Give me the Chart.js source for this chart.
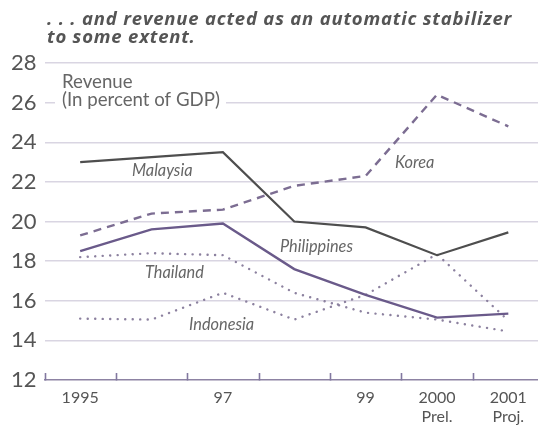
<!DOCTYPE html>
<html>
<head>
<meta charset="utf-8">
<script src="https://cdn.jsdelivr.net/npm/chart.js@4/dist/chart.umd.min.js"></script>
<style>
html,body{margin:0;padding:0;background:#fff;overflow:hidden;width:538px;height:425px;}
#wrap{position:relative;width:544px;height:425px;}
</style>
</head>
<body>
<div id="wrap"><canvas id="c" width="544" height="425"></canvas></div>
<script>
// ---- data ----
const categories = ['1995','1996','1997','1998','1999','2000','2001'];
const tickLabels = ['1995','','97','','99',['2000','Prel.'],['2001','Proj.']];
const malaysia    = [23.0, 23.25, 23.5, 20.0, 19.7, 18.3, 19.45];
const korea       = [19.3, 20.4, 20.6, 21.8, 22.3, 26.4, 24.8];
const philippines = [18.5, 19.6, 19.9, 17.6, 16.3, 15.15, 15.35];
const thailand    = [18.2, 18.4, 18.3, 16.4, 15.4, 15.05, 14.45];
const indonesia   = [15.1, 15.05, 16.4, 15.05, 16.3, 18.35, 15.0];
const seriesNames = ['Malaysia','Korea','Philippines','Thailand','Indonesia'];
const titleLines = ['. . . and revenue acted as an automatic stabilizer','to some extent.'];
const unitLines = ['Revenue','(In percent of GDP)'];
const yMin = 12, yMax = 28, yStep = 2;

// ---- helpers ----
function fitSize(ctx, text, width, style, family){
  ctx.font = style + ' 20px ' + family;
  return 20 * width / ctx.measureText(text).width;
}

const annot = {
  id: 'annot',
  beforeDatasetsDraw(chart){
    const ctx = chart.ctx;
    ctx.save();
    // white box behind the unit label (interrupts the 26 grid line)
    ctx.fillStyle = '#fff';
    ctx.fillRect(55, 95, 171, 17);
    ctx.fillStyle = '#666';
    ctx.textBaseline = 'alphabetic';
    ctx.textAlign = 'left';
    let s = fitSize(ctx, unitLines[1], 158, 'normal', 'Lato');
    ctx.font = 'normal ' + s + 'px Lato';
    ctx.fillText(unitLines[0], 62, 88);
    ctx.fillText(unitLines[1], 62, 106);
    ctx.restore();
  },
  afterDraw(chart){
    const ctx = chart.ctx;
    const ca = chart.chartArea;
    ctx.save();
    // x-axis tick marks (upward, at category boundaries)
    const n = categories.length;
    const w = (ca.right - ca.left) / n;
    ctx.strokeStyle = '#8278a0';
    ctx.lineWidth = 1.6;
    ctx.setLineDash([]);
    ctx.beginPath();
    for (let i = 0; i <= n; i++){
      const x = Math.round(ca.left + i * w) + 0.5;
      ctx.moveTo(x, ca.bottom + 0.5);
      ctx.lineTo(x, ca.bottom - 7);
    }
    ctx.stroke();
    ctx.textAlign = 'left';
    ctx.textBaseline = 'alphabetic';
    // title
    ctx.font = 'italic bold 18.5px "Open Sans"';
    const mw = ctx.measureText(titleLines[0]).width;
    if ('letterSpacing' in ctx) ctx.letterSpacing = Math.max(0, (465 - mw) / titleLines[0].length).toFixed(2) + 'px';
    ctx.fillStyle = '#555';
    ctx.fillText(titleLines[0], 47, 25);
    ctx.fillText(titleLines[1], 47, 43);
    if ('letterSpacing' in ctx) ctx.letterSpacing = '0px';
    // series labels
    const pos = [[132,176],[395,168],[280,252],[145,278],[189,330]];
    ctx.fillStyle = '#666';
    let ls = fitSize(ctx, seriesNames[2], 73, 'italic', 'Lato');
    ctx.font = 'italic ' + ls + 'px Lato';
    seriesNames.forEach((t, i) => ctx.fillText(t, pos[i][0], pos[i][1]));
    ctx.restore();
  }
};

const dotted = [0.1, 7.4];
new Chart(document.getElementById('c'), {
  type: 'line',
  data: {
    labels: categories,
    datasets: [
      {label: seriesNames[0], data: malaysia, borderColor: '#4e4e4e', borderWidth: 2.2},
      {label: seriesNames[1], data: korea, borderColor: '#7c6d92', borderWidth: 2.4, borderDash: [8, 6]},
      {label: seriesNames[2], data: philippines, borderColor: '#6a5a8a', borderWidth: 2.4},
      {label: seriesNames[3], data: thailand, borderColor: '#8c819f', borderWidth: 2.4, borderDash: dotted, borderCapStyle: 'round'},
      {label: seriesNames[4], data: indonesia, borderColor: '#8c819f', borderWidth: 2.4, borderDash: dotted, borderCapStyle: 'round'}
    ]
  },
  options: {
    responsive: false,
    animation: false,
    maintainAspectRatio: false,
    layout: {padding: {top: 63, left: 0, right: 0, bottom: 0}},
    elements: {point: {radius: 0}, line: {tension: 0, fill: false}},
    plugins: {legend: {display: false}, title: {display: false}, tooltip: {enabled: false}},
    scales: {
      x: {
        offset: true,
        grid: {display: false, drawTicks: false},
        border: {display: true, color: '#8d83a3', width: 1.6},
        ticks: {
          autoSkip: false, maxRotation: 0, padding: 8,
          color: '#555', font: {family: 'Lato', size: 16, lineHeight: 1.2},
          callback: (v, i) => tickLabels[i]
        },
        afterFit: (s) => { s.height = 45; }
      },
      y: {
        min: yMin, max: yMax,
        grid: {
          drawTicks: false,
          color: (c) => c.tick && c.tick.value === yMin ? 'rgba(0,0,0,0)' : '#d9d5e2',
          lineWidth: 1.5
        },
        border: {display: false},
        ticks: {stepSize: yStep, padding: 8, color: '#555', font: {family: 'Lato', size: 22}},
        afterFit: (s) => { s.width = 44.5; }
      }
    }
  },
  plugins: [annot]
});
</script>
</body>
</html>
